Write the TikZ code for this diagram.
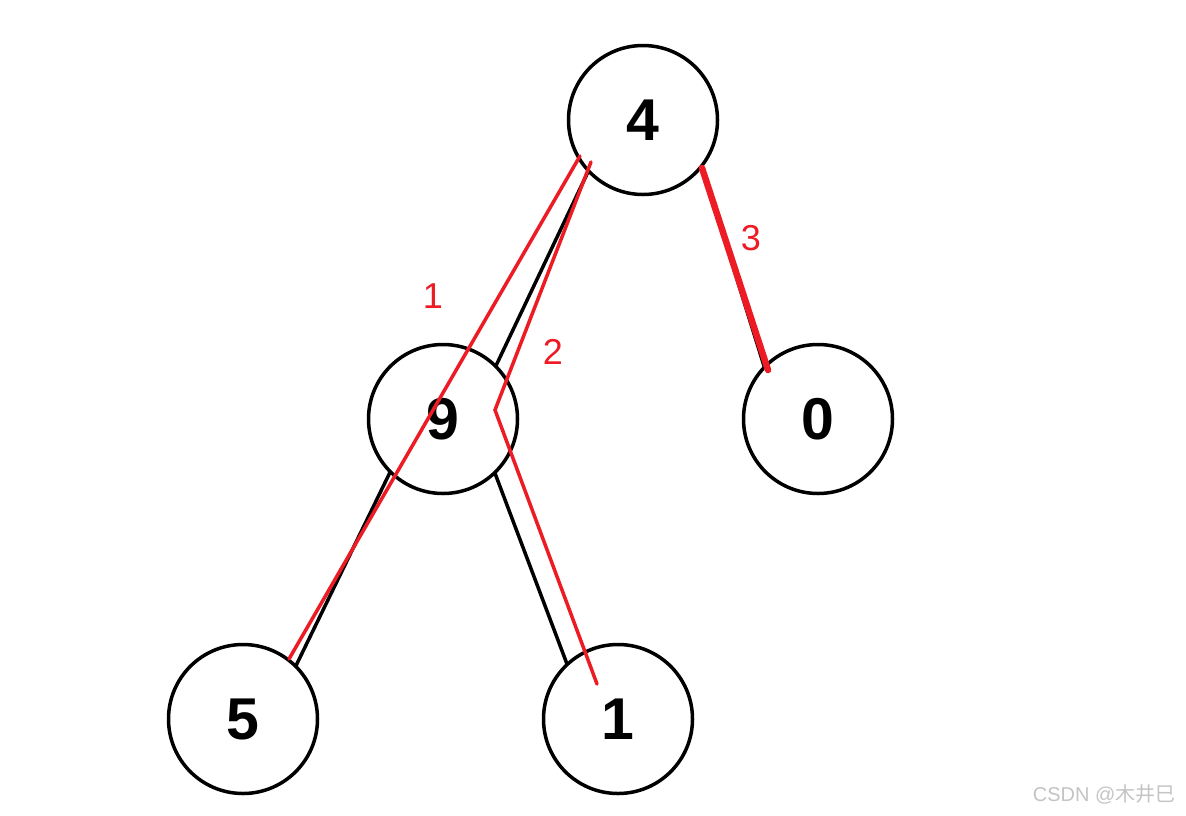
\documentclass[tikz,border=0pt]{standalone}
\usepackage{fontspec}
\setmainfont{Liberation Sans}
\newfontfamily\cjk{Noto Sans CJK SC}
\definecolor{annred}{HTML}{ED1C24}
\definecolor{wm}{HTML}{C4C4C4}
\begin{document}
\begin{tikzpicture}[x=1pt,y=-1pt,
  treenode/.style={circle,draw=black,line width=3.5pt,minimum size=149pt,inner sep=0pt,outer sep=0pt,
    font=\fontsize{59}{61}\selectfont\bfseries},
  treeedge/.style={draw=black,line width=3.5pt},
  annline/.style={draw=annred,line width=3.5pt,line cap=round,line join=miter},
  annthick/.style={draw=annred,line width=6.5pt,line cap=round},
  annlabel/.style={text=annred,font=\fontsize{36}{38}\selectfont},
  watermark/.style={text=wm,font=\fontsize{20}{22}\selectfont}]
\useasboundingbox[fill=white] (0,0) rectangle (1186,815);
\node[treenode] (n4) at (643,120) {4};
\node[treenode] (n9) at (443,419) {9};
\node[treenode] (n0) at (818,419) {0};
\node[treenode] (n5) at (243,719) {5};
\node[treenode] (n1) at (618,719) {1};
\draw[treeedge] (n4.223) -- (n9.45);
\draw[treeedge] (n4.-38) -- (n0.136);
\draw[treeedge] (n9.225) -- (n5.45);
\draw[treeedge] (n9.-46) -- (n1.133);
% annotations
\coordinate (a1s) at (580,156);
\coordinate (a1e) at (289,659);
\coordinate (a2s) at (591,162);
\coordinate (a2k) at (495,410);
\coordinate (a2e) at (597,684);
\coordinate (a3s) at (702,168);
\coordinate (a3e) at (768,370);
\draw[annline] (a1s) -- (a1e);
\draw[annline] (a2s) -- (a2k) -- (a2e);
\draw[annthick] (a3s) -- (a3e);
\node[annlabel] (l1) at (433,296) {1};
\node[annlabel] (l2) at (553,352) {2};
\node[annlabel] (l3) at (751,238) {3};
\node[watermark,anchor=east] (wmk) at (1179,794) {CSDN @{\cjk 木井巳}};
\end{tikzpicture}
\end{document}
